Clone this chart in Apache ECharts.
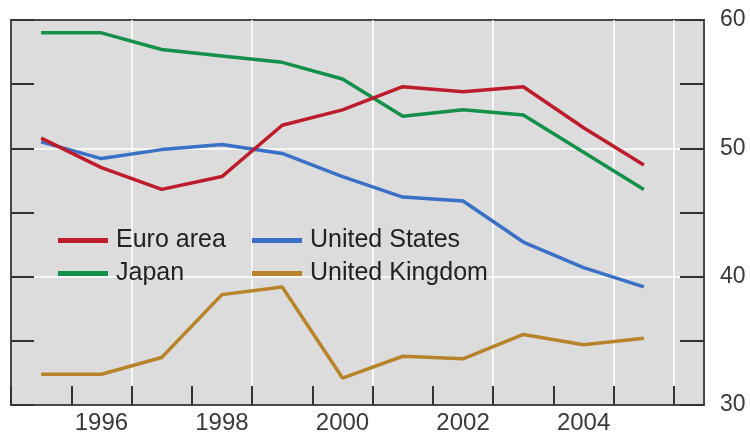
<!DOCTYPE html>
<html>
<head>
<meta charset="utf-8">
<script src="https://cdn.jsdelivr.net/npm/echarts@6/dist/echarts.min.js"></script>
<style>
  html, body { margin: 0; padding: 0; background: #fff; }
  #chart { width: 750px; height: 438px; }
</style>
</head>
<body>
<div id="chart"></div>
<script>
  // years on the x axis
  const years = ['1995', '1996', '1997', '1998', '1999', '2000', '2001', '2002', '2003', '2004', '2005']
  const euroArea = [50.8, 48.5, 46.8, 47.8, 51.8, 53.0, 54.8, 54.4, 54.8, 51.6, 48.7]
  const unitedStates = [50.5, 49.2, 49.9, 50.3, 49.6, 47.8, 46.2, 45.9, 42.7, 40.7, 39.2]
  const japan = [59.0, 59.0, 57.7, 57.2, 56.7, 55.4, 52.5, 53.0, 52.6, 49.7, 46.8]
  const unitedKingdom = [32.4, 32.4, 33.7, 38.6, 39.2, 32.1, 33.8, 33.6, 35.5, 34.7, 35.2]
  const yTicks = [30, 40, 50, 60]

  const font = 'Liberation Sans, Arial, sans-serif'
  const inkColor = '#3a3a3a'

  const chart = echarts.init(document.getElementById('chart'))

  const legendBase = {
    orient: 'vertical',
    top: 224,
    padding: 0,
    itemGap: 0,
    itemWidth: 50,
    itemHeight: 5,
    icon: 'rect',
    textStyle: {
      fontFamily: font,
      fontSize: 25,
      color: '#222',
      lineHeight: 23,
      padding: [0, 0, 10, 3],
    },
  }

  chart.setOption({
    animation: false,
    // grid 0: framed grey panel, grid 1: where the lines live (ends half a year early)
    grid: [
      {
        left: 11, right: 46, top: 20, bottom: 33,
        show: true,
        backgroundColor: '#dcdcdc',
        borderColor: '#4a4a4a',
        borderWidth: 2,
      },
      { left: 11, right: 76, top: 20, bottom: 33 },
    ],
    legend: [
      Object.assign({}, legendBase, { left: 58, data: ['Euro area', 'Japan'] }),
      Object.assign({}, legendBase, { left: 252, data: ['United States', 'United Kingdom'] }),
    ],
    xAxis: [
      {
        type: 'category',
        gridIndex: 1,
        data: years,
        boundaryGap: true,
        axisLine: { show: false },
        axisTick: {
          show: true,
          inside: true,
          interval: 0,
          length: 19,
          lineStyle: { color: '#333', width: 2 },
        },
        axisLabel: {
          interval: (idx) => idx % 2 === 1,
          margin: 6,
          fontFamily: font,
          fontSize: 24,
          color: inkColor,
        },
        splitLine: {
          show: true,
          interval: (idx) => idx > 0 && idx % 2 === 0,
          lineStyle: { color: '#ffffff', width: 1.5 },
        },
      },
      { type: 'value', gridIndex: 0, min: 0, max: 1, show: false },
    ],
    yAxis: [
      {
        // labels and white grid lines
        type: 'value',
        gridIndex: 0,
        position: 'right',
        min: yTicks[0],
        max: yTicks[yTicks.length - 1],
        interval: 10,
        axisLine: { show: false },
        axisTick: { show: false },
        axisLabel: {
          margin: 16,
          fontFamily: font,
          fontSize: 23,
          color: inkColor,
        },
        splitLine: {
          show: true,
          lineStyle: { color: ['rgba(0,0,0,0)', '#ffffff', '#ffffff', 'rgba(0,0,0,0)'], width: 1.5 },
        },
      },
      {
        // inside ticks on the right
        type: 'value',
        gridIndex: 0,
        position: 'right',
        min: 30, max: 60, interval: 5,
        axisLine: { show: false },
        axisLabel: { show: false },
        splitLine: { show: false },
        axisTick: { show: true, inside: true, length: 24, lineStyle: { color: '#333', width: 2 } },
      },
      {
        // inside ticks on the left
        type: 'value',
        gridIndex: 0,
        position: 'left',
        min: 30, max: 60, interval: 5,
        axisLine: { show: false },
        axisLabel: { show: false },
        splitLine: { show: false },
        axisTick: { show: true, inside: true, length: 23, lineStyle: { color: '#333', width: 2 } },
      },
      { type: 'value', gridIndex: 1, min: 30, max: 60, show: false },
    ],
    series: [
      { name: 'Japan', data: japan, color: '#13914a' },
      { name: 'United Kingdom', data: unitedKingdom, color: '#b7842b' },
      { name: 'United States', data: unitedStates, color: '#3a70c6' },
      { name: 'Euro area', data: euroArea, color: '#bd1c2c' },
    ].map((s) => ({
      name: s.name,
      type: 'line',
      xAxisIndex: 0,
      yAxisIndex: 3,
      data: s.data,
      color: s.color,
      symbol: 'none',
      lineStyle: { width: 3.5, color: s.color },
    })),
  })
</script>
</body>
</html>
